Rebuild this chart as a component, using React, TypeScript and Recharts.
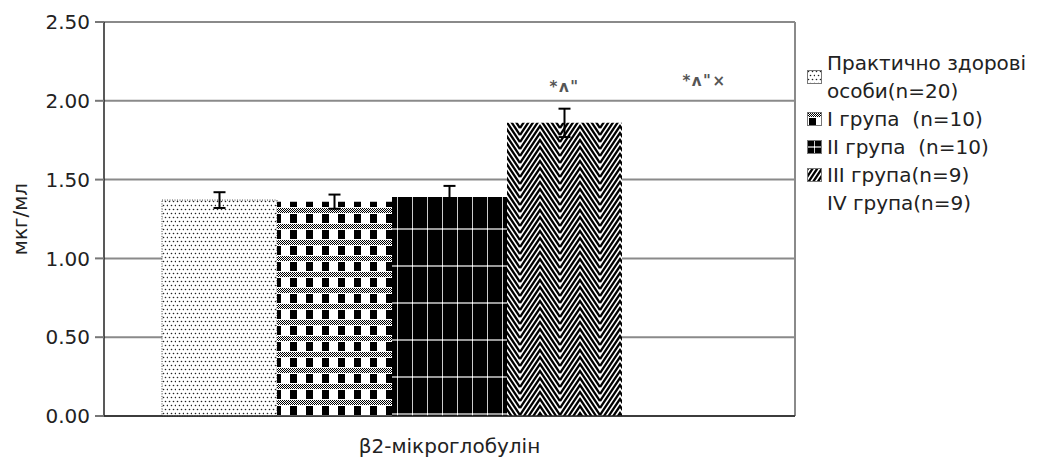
import React from 'react';
import { BarChart, Bar, XAxis, YAxis, CartesianGrid, Legend, ErrorBar, LabelList } from 'recharts';

const categories = ['β2-мікроглобулін'];
const groupNames = [
  'Практично здорові особи(n=20)',
  'I група  (n=10)',
  'II група  (n=10)',
  'III група(n=9)',
  'IV група(n=9)',
];
const means = [1.37, 1.36, 1.39, 1.86, 1.9];
const errors = [0.05, 0.045, 0.07, 0.09, 0];
const marks = ['', '', '', '*ʌ"', '*ʌ"×'];
const yTicks = [0, 0.5, 1, 1.5, 2, 2.5];

const FONT = '"DejaVu Sans", Verdana, sans-serif';
const fills = ['url(#pDots)', 'url(#pCheck)', 'url(#pCross)', 'url(#pZig)', 'transparent'];

const data = categories.map((name) => {
  const row: any = { name };
  means.forEach((m, i) => {
    row[`g${i}`] = m;
    row[`e${i}`] = errors[i];
    row[`m${i}`] = marks[i];
  });
  return row;
});

// SVG patterns imitating the old Excel fills
const Patterns = () => {
  const zig: string[] = [];
  for (let c = -35; c <= 14; c += 7) {
    zig.push(`M0 ${c + 30} L20 ${c} L40 ${c + 30}`);
  }
  return (
    <svg width={0} height={0} style={{ position: 'absolute' }}>
      <defs>
        <pattern id="pDither" width={2} height={2} patternUnits="userSpaceOnUse">
          <rect width={2} height={2} fill="#fff" />
          <rect width={1} height={1} fill="#000" />
          <rect x={1} y={1} width={1} height={1} fill="#000" />
        </pattern>
        <pattern id="pDots" width={8} height={8} patternUnits="userSpaceOnUse">
          <rect width={8} height={8} fill="#fff" />
          <circle cx={1.5} cy={1.5} r={0.8} fill="#222" />
          <circle cx={5.5} cy={1.5} r={0.8} fill="#222" />
          <circle cx={3.5} cy={5.5} r={0.8} fill="#222" />
          <circle cx={7.5} cy={5.5} r={0.8} fill="#222" />
        </pattern>
        <pattern id="pCheck" width={16} height={16} patternUnits="userSpaceOnUse">
          <rect width={16} height={16} fill="#fff" />
          <rect y={0} width={16} height={5} fill="url(#pDither)" />
          <rect x={2} y={6} width={7} height={9} fill="#000" />
        </pattern>
        <pattern id="pCross" width={15} height={37} patternUnits="userSpaceOnUse">
          <rect width={15} height={37} fill="#000" />
          <rect x={7} width={1} height={37} fill="#ccc" />
          <rect y={6} width={15} height={2} fill="#999" />
          <rect x={7} y={6} width={1} height={2} fill="#fff" />
        </pattern>
        <pattern id="pZig" width={40} height={7} patternUnits="userSpaceOnUse">
          <rect width={40} height={7} fill="#fff" />
          <path d={zig.join(' ')} stroke="#000" strokeWidth={2.3} fill="none" />
        </pattern>
      </defs>
    </svg>
  );
};

const renderLegend = () => (
  <div style={{ width: 236, fontFamily: FONT, fontSize: 20, color: '#222' }}>
    {groupNames.map((n, i) => (
      <div key={n} style={{ display: 'flex', alignItems: 'center', lineHeight: '28px', whiteSpace: 'pre-wrap' }}>
        <svg width={15} height={14} style={{ flex: 'none', marginRight: 5 }}>
          {i < 4 && <rect x={0.5} y={0.5} width={14} height={13} fill={fills[i]} stroke="#777" strokeWidth={1} />}
        </svg>
        <span>{n}</span>
      </div>
    ))}
  </div>
);

const YLabel = (props: any) => {
  const { viewBox } = props;
  const x = viewBox.x + 16;
  const y = viewBox.y + viewBox.height / 2;
  return (
    <text x={x} y={y} transform={`rotate(-90 ${x} ${y})`} textAnchor="middle" dominantBaseline="central"
      fontFamily={FONT} fontSize={20} fill="#222">
      мкг/мл
    </text>
  );
};

const markLabel = (i: number) => (props: any) => {
  const { x, y, width, value } = props;
  if (!value) return null;
  const shift = i === 4 ? 25 : 0;
  return (
    <text x={x + width / 2 + shift} y={y - 31} textAnchor="middle" fontFamily={FONT} fontSize={15}
      fontWeight="bold" letterSpacing={1.5} fill="#555">
      {value}
    </text>
  );
};

export default function App() {
  return (
    <div style={{ position: 'absolute', left: 0, top: 0 }}>
      <Patterns />
      <BarChart width={1047} height={459} data={data} barGap={0} barCategoryGap={58}
        margin={{ top: 22, right: 16, bottom: 0, left: 4 }}>
        <CartesianGrid stroke="#8a8a8a" strokeWidth={2}
          verticalCoordinatesGenerator={({ offset }: any) => [offset.left + offset.width]} />
        <XAxis dataKey="name" height={43} tickLine={false} axisLine={{ stroke: '#222', strokeWidth: 1.5 }}
          tickMargin={17} tick={{ fontFamily: FONT, fontSize: 20, fill: '#222' }} />
        <YAxis width={100} domain={[0, 2.5]} ticks={yTicks} tickFormatter={(v: number) => v.toFixed(2)}
          tickSize={9} tickMargin={5} axisLine={{ stroke: '#222', strokeWidth: 1.5 }}
          tickLine={{ stroke: '#777', strokeWidth: 2 }}
          tick={{ fontFamily: FONT, fontSize: 20, fill: '#222' }} label={{ content: YLabel }} />
        <Legend layout="vertical" align="right" verticalAlign="top" content={renderLegend}
          wrapperStyle={{ top: 49, left: 807, right: 'auto' }} />
        {means.map((_, i) => (
          <Bar key={i} dataKey={`g${i}`} name={groupNames[i]} fill={fills[i]} isAnimationActive={false}
            stroke={i === 0 ? '#444' : 'none'} strokeDasharray={i === 0 ? '1 1.5' : undefined}>
            {errors[i] > 0 && (
              <ErrorBar dataKey={`e${i}`} width={6} stroke="#000" strokeWidth={2} />
            )}
            <LabelList dataKey={`m${i}`} content={markLabel(i)} />
          </Bar>
        ))}
      </BarChart>
    </div>
  );
}
